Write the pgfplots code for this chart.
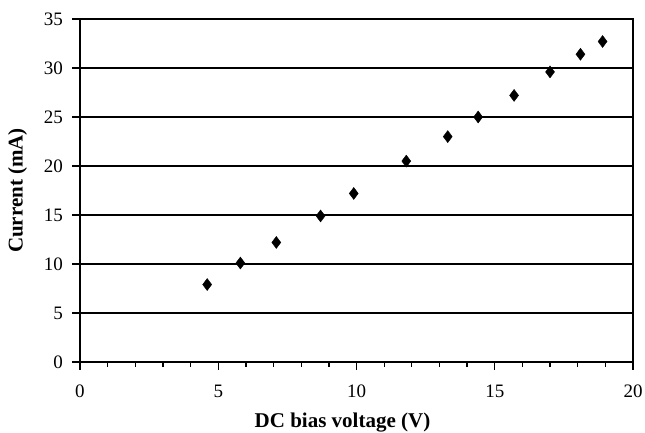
\documentclass[border=0pt]{standalone}
\usepackage{fontspec}
\setmainfont{Liberation Serif}
\usepackage{pgfplots}
\pgfplotsset{compat=1.18}
\begin{document}
\begin{tikzpicture}[x=1pt,y=1pt]
\fontsize{19}{22}\selectfont
\begin{axis}[
  scale only axis,
  width=553pt, height=343pt,
  xmin=0, xmax=20, ymin=0, ymax=35,
  xtick={0,5,...,20}, ytick={0,5,...,35},
  minor x tick num=4,
  tick align=outside,
  major tick length=8pt, minor tick length=5pt,
  xtick pos=bottom, ytick pos=left,
  ymajorgrids,
  grid style={black, line width=1.5pt},
  axis line style={line width=1.6pt},
  every tick/.style={black, line width=1.3pt},
  /pgf/number format/assume math mode=true,
  tick label style={font=\fontsize{19}{22}\selectfont, inner sep=0pt},
  yticklabel style={anchor=east, xshift=-9pt},
  xticklabel style={anchor=center, yshift=-21pt},
  xlabel={\textbf{DC bias voltage (V)}},
  ylabel={\textbf{Current (mA)}},
  label style={font=\fontsize{21}{24}\selectfont, inner sep=0pt},
  xlabel style={at={([xshift=-14pt,yshift=-66pt]axis description cs:0.5,0)}, anchor=base},
  ylabel style={at={([xshift=-62.5pt]axis description cs:0,0.5)}, anchor=center},
]
\coordinate (bl) at (rel axis cs:0,0);
\coordinate (tr) at (rel axis cs:1,1);
\addplot[only marks, mark=diamond*, mark size=6pt, black] coordinates {
(4.6,7.9) (5.8,10.1) (7.1,12.2) (8.7,14.9) (9.9,17.2) (11.8,20.5)
(13.3,23.0) (14.4,25.0) (15.7,27.2) (17.0,29.6) (18.1,31.4) (18.9,32.7)
};
\end{axis}
\pgfresetboundingbox
\path[use as bounding box] ([xshift=-80pt,yshift=-71pt]bl) rectangle ([xshift=12pt,yshift=19pt]tr);
\end{tikzpicture}
\end{document}
